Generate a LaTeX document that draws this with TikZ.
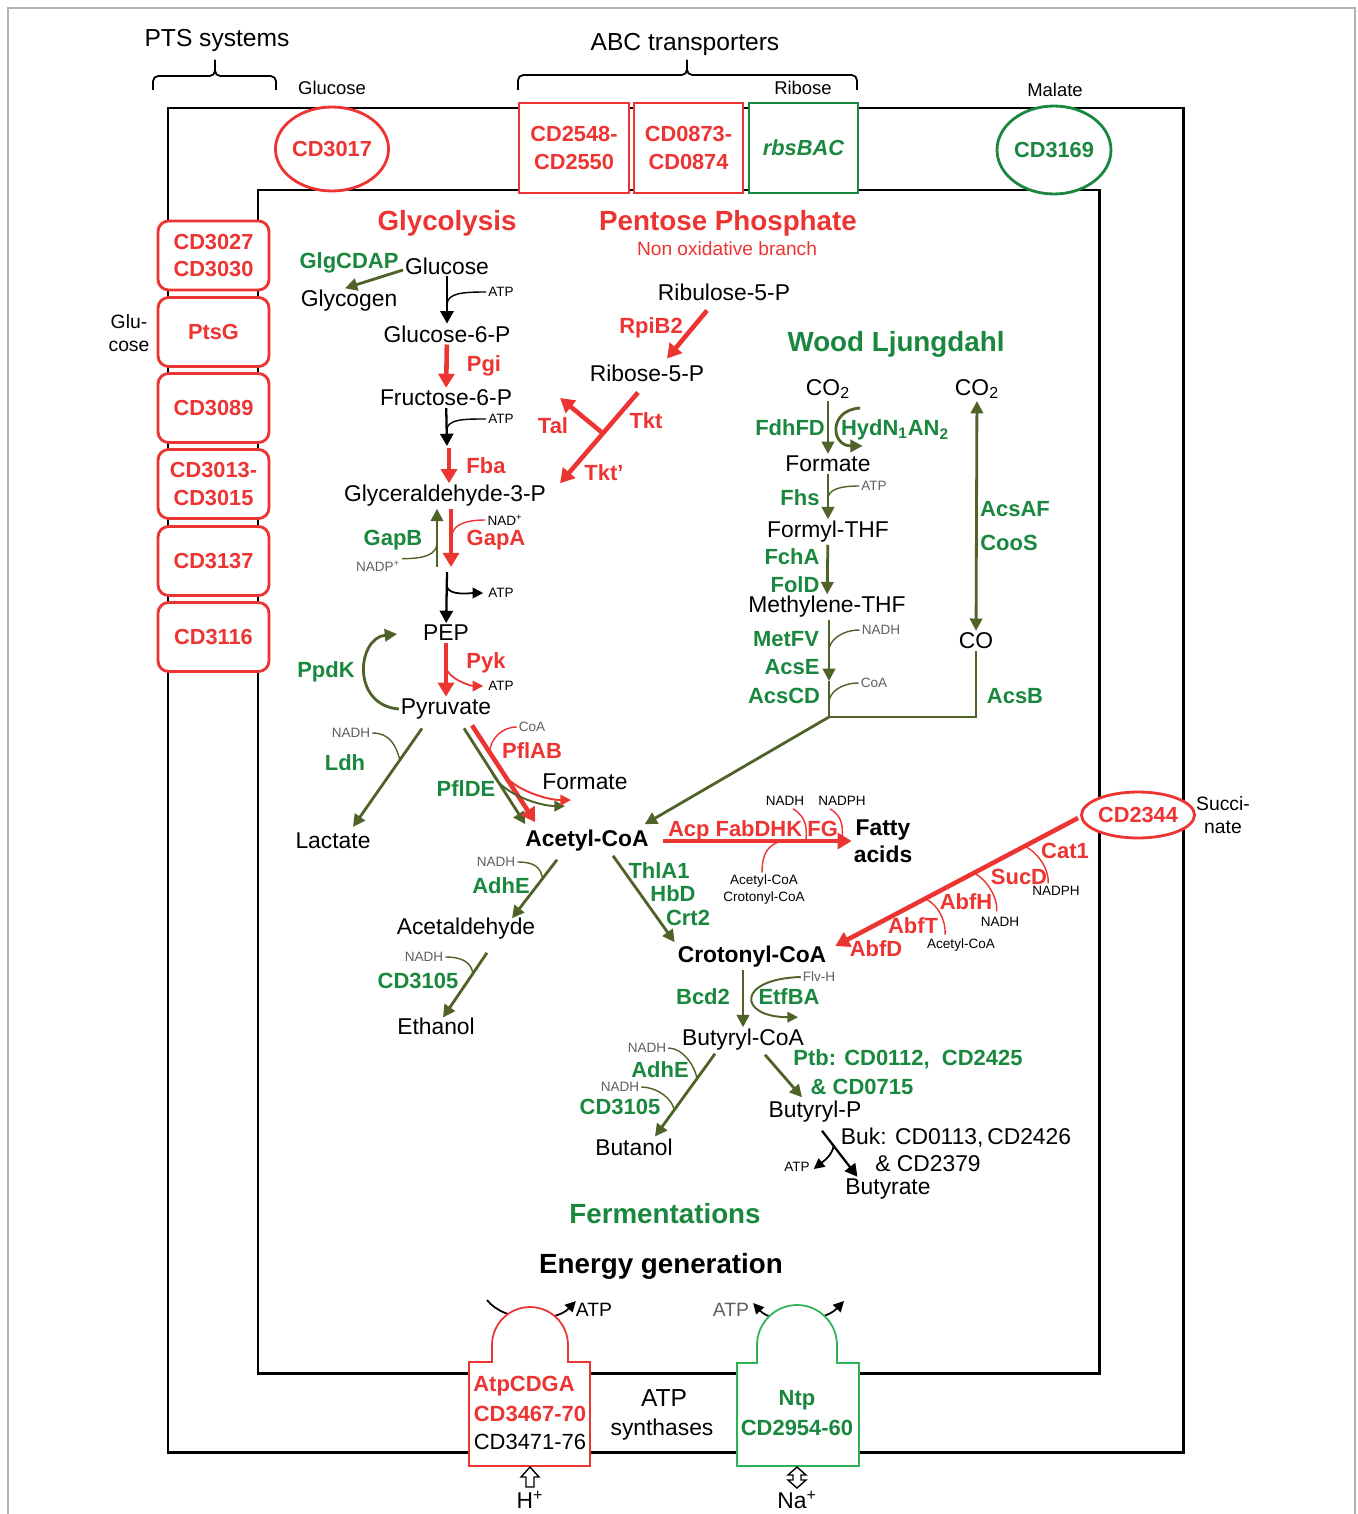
\documentclass[tikz,border=0pt]{standalone}
\usepackage{fontspec}
\setmainfont{Liberation Sans}
\usetikzlibrary{arrows.meta,shapes.geometric,calc}
\definecolor{redc}{RGB}{236,52,50}
\definecolor{greent}{RGB}{25,135,62}
\definecolor{arrowgreen}{RGB}{79,98,40}
\definecolor{ntpgreen}{RGB}{45,178,85}
\definecolor{cofgray}{RGB}{95,95,95}
\newcommand{\fsz}[2]{\fontsize{#1}{#2}\selectfont}
\newcommand{\membwidth}{1.7pt}
\newcommand{\cofwidth}{0.8pt}
\newcommand{\boxwidth}{1.6pt}

\tikzset{
  met/.style={font=\fsz{13}{16}},
  bmet/.style={font=\bfseries\fsz{13}{16}},
  genz/.style={font=\bfseries\fsz{12.5}{15}, text=greent},
  renz/.style={font=\bfseries\fsz{12.5}{15}, text=redc},
  cofac/.style={font=\fsz{7.7}{9}},
  gcofac/.style={font=\fsz{7.7}{9}, text=cofgray},
  ttl/.style={font=\bfseries\fsz{15.8}{18}},
  ptsbox/.style={draw=redc, line width=\boxwidth, rounded corners=6pt, fill=white, minimum width=2.22cm, minimum height=1.38cm, align=center, font=\bfseries\fsz{12.4}{15.9}, text=redc, inner sep=0pt},
  tbox/.style={draw, line width=\boxwidth, fill=white, minimum height=1.8cm, align=center, font=\bfseries\fsz{12.4}{15.9}, inner sep=0pt},
  tellipse/.style={ellipse, draw, line width=\boxwidth, fill=white, font=\bfseries\fsz{12.4}{15}, inner sep=0pt},
  karr/.style={line width=1.3pt, -{Triangle[length=7pt,width=7.5pt]}},
  rarr/.style={redc, line width=2.6pt, -{Triangle[length=8pt,width=9pt]}},
  garr/.style={arrowgreen, line width=1.6pt, -{Triangle[length=7pt,width=7pt]}},
  gline/.style={arrowgreen, line width=1.6pt},
  cof/.style={line width=\cofwidth},
  smalltip/.style={-{Triangle[length=6pt,width=6pt]}}
}

\begin{document}
\begin{tikzpicture}[x=0.02cm, y=-0.02cm, every node/.style={inner sep=1pt}]
\useasboundingbox (0,0) rectangle (1357,1514);
%frame
\draw[gray!60, line width=0.6pt] (8,1514) -- (8,8) -- (1355,8) -- (1355,1514);
%membranes
\draw[line width=\membwidth] (168,108) rectangle (1183,1452);
\draw[line width=\membwidth] (258,190) rectangle (1099,1373);

%transporters
\node[font=\fsz{14}{16}] (ptslab) at (217,40) {PTS systems};
\node[font=\fsz{14}{16}] (abclab) at (685,44) {ABC transporters};
\draw[line width=1pt, rounded corners=3pt] (153,90) -- (153,76) -- (215,76) -- (215,60);
\draw[line width=1pt, rounded corners=3pt] (215,60) -- (215,76) -- (276,76) -- (276,90);
\draw[line width=1pt, rounded corners=3pt] (518,90) -- (518,75) -- (687,75) -- (687,60);
\draw[line width=1pt, rounded corners=3pt] (687,60) -- (687,75) -- (857,75) -- (857,90);
\node[font=\fsz{10.5}{12}] (glcout) at (332,88) {Glucose};
\node[font=\fsz{10.5}{12}] (ribout) at (803,88) {Ribose};
\node[font=\fsz{10.5}{12}] (malout) at (1055,90) {Malate};
\node[font=\fsz{11}{13}, align=center] (glcpts) at (129,333) {Glu-\\cose};
\node[font=\fsz{11}{13}, align=center] (sucout) at (1223,815) {Succi-\\nate};

\node[tellipse, draw=redc, text=redc, minimum width=2.16cm, minimum height=1.68cm] (cd3017) at (332,149) {CD3017};
\node[tbox, draw=redc, text=redc, minimum width=2.2cm] (cd2548) at (574,148) {CD2548-\\CD2550};
\node[tbox, draw=redc, text=redc, minimum width=2.18cm] (cd0873) at (688.5,148) {CD0873-\\CD0874};
\node[tbox, draw=greent, text=greent, minimum width=2.18cm] (rbs) at (803.5,148) {\itshape rbsBAC};
\node[tellipse, draw=greent, text=greent, minimum width=2.28cm, minimum height=1.76cm] (cd3169) at (1054,150) {CD3169};
\node[tellipse, draw=redc, text=redc, minimum width=1.92cm, minimum height=0.92cm] (cd2344) at (1138,815) {CD2344};

\node[ptsbox] (pts1) at (213.5,255.5) {CD3027\\CD3030};
\node[ptsbox] (pts2) at (213.5,332) {PtsG};
\node[ptsbox] (pts3) at (213.5,408) {CD3089};
\node[ptsbox] (pts4) at (213.5,484) {CD3013-\\CD3015};
\node[ptsbox] (pts5) at (213.5,561) {CD3137};
\node[ptsbox] (pts6) at (213.5,637) {CD3116};

%glycolysis
\node[ttl, text=redc] (glyctitle) at (447,223) {Glycolysis};
\node[met] (glc) at (447,266) {Glucose};
\node[met] (glyg) at (349,301) {Glycogen};
\node[genz] (glg) at (349,263) {GlgCDAP};
\node[met] (g6p) at (447,334) {Glucose-6-P};
\node[renz] (pgi) at (484,366) {Pgi};
\node[met] (f6p) at (446,398) {Fructose-6-P};
\node[renz] (fba) at (486,466) {Fba};
\node[met] (gap) at (445,496) {Glyceraldehyde-3-P};
\node[genz] (gapb) at (393,540) {GapB};
\node[renz] (gapa) at (496,540) {GapA};
\node[met] (pep) at (446,633) {PEP};
\node[renz] (pyk) at (486,663) {Pyk};
\node[genz] (ppdk) at (326,672) {PpdK};
\node[met] (pyr) at (446,709) {Pyruvate};
\node[genz] (ldh) at (345,763) {Ldh};
\node[met] (lac) at (333,841) {Lactate};
\node[renz] (pflab) at (532,751) {PflAB};
\node[genz] (pflde) at (466,789) {PflDE};
\node[met] (fmt) at (585,782) {Formate};
\node[bmet] (acoa) at (587,841) {Acetyl-CoA};
\node[cofac] (atp1) at (501,292) {ATP};
\node[cofac] (atp2) at (501,419) {ATP};
\node[cofac] (nadp) at (505,520) {NAD\textsuperscript{+}};
\node[gcofac] (nadpp) at (378,566) {NADP\textsuperscript{+}};
\node[cofac] (atp3) at (501,593) {ATP};
\node[cofac] (atp4) at (501,686) {ATP};
\node[gcofac] (nadh1) at (351,733) {NADH};
\node[gcofac] (coa1) at (532,727) {CoA};
\coordinate (fbp) at (447,446);
\coordinate (bpg) at (447,572);
\coordinate (gbl) at (437,567);
\coordinate (gal) at (451,567);

\draw[garr] ($(glc.west)+(0,4)$) -- ($(glyg.north)+(-4,0)$);
\draw[karr] (glc) -- (g6p);
\draw[cof] (atp1.west) .. controls +(-22,0) and +(0,-12) .. ($(glc.south)!.6!(g6p.north)$);
\draw[rarr] (g6p) -- (f6p);
\draw[karr] (f6p) -- (fbp);
\draw[cof] (atp2.west) .. controls +(-22,0) and +(0,-12) .. ($(f6p.south)!.6!(fbp)$);
\draw[rarr] ($(fbp)+(2,2)$) -- ($(gap.north)+(4,0)$);
\draw[garr] (gbl) -- (gbl |- gap.south);
\draw[rarr] (gal |- gap.south) -- (gal);
\draw[cof, redc] (nadp.west) .. controls +(-20,0) and +(0,-12) .. ($(gal |- gap.south)+(1,28)$);
\draw[cof, arrowgreen] (nadpp.north east) .. controls +(22,0) and +(0,12) .. ($(gbl |- gap.south)+(0,34)$);
\draw[karr] (bpg) -- (pep);
\draw[cof, line width=1pt, smalltip] ($(bpg)!.28!(pep.north)$) .. controls +(2,10) and +(-12,0) .. ($(atp3.west)+(-3,0)$);
\draw[rarr] (pep) -- (pyr);
\draw[cof, redc, line width=1pt, smalltip] ($(pep.south)!.45!(pyr.north)$) .. controls +(2,12) and +(-12,0) .. ($(atp4.west)+(-3,0)$);
\draw[garr] (pyr.west) .. controls +(-48,-4) and +(-40,4) .. ($(pep.west)+(-24,1)$);
\coordinate (ldh1) at ($(pyr.south)+(-24,7)$);
\coordinate (ldh2) at ($(lac.north)+(20,-4)$);
\draw[garr] (ldh1) -- (ldh2);
\draw[cof, arrowgreen] (nadh1.east) .. controls +(18,0) and +(-4,-14) .. ($(ldh1)!.32!(ldh2)$);
\coordinate (pfr1) at ($(pyr.south)+(26,4)$);
\coordinate (pfr2) at ($(acoa.north west)+(12,-6)$);
\coordinate (pfg1) at ($(pyr.south)+(18,7)$);
\coordinate (pfg2) at ($(acoa.north west)+(2,-4)$);
\draw[garr] (pfg1) -- (pfg2);
\draw[rarr] (pfr1) -- (pfr2);
\draw[arrowgreen, line width=1.1pt, smalltip] ($(pfg1)!.45!(pfg2)$) .. controls +(8,22) and +(-25,0) .. ($(fmt.south)+(-20,14)$);
\draw[redc, line width=1.1pt, smalltip] ($(pfr1)!.42!(pfr2)$) .. controls +(8,22) and +(-25,0) .. ($(fmt.south)+(-14,8)$);
\draw[cof, redc] (coa1.west) .. controls +(-16,0) and +(0,-12) .. ($(pfr1)!.28!(pfr2)$);

%pentose phosphate
\node[ttl, text=redc] (pptitle) at (728,223) {Pentose Phosphate};
\node[font=\fsz{10.9}{13}, text=redc] (ppsub) at (727,249) {Non oxidative branch};
\node[met] (ru5p) at (724,292) {Ribulose-5-P};
\node[renz] (rpi) at (651,328) {RpiB2};
\node[met] (r5p) at (647,373) {Ribose-5-P};
\node[renz] (tal) at (553,426) {Tal};
\node[renz] (tkt) at (646,421) {Tkt};
\node[renz] (tkt2) at (604,473) {Tkt’};
\draw[rarr] ($(ru5p.south)+(-17,8)$) -- ($(r5p.north)+(20,-4)$);
\coordinate (tk1) at ($(r5p.south)+(-9,9)$);
\coordinate (tk2) at ($(gap.north east)+(12,0)$);
\draw[rarr] (tk1) -- (tk2);
\draw[rarr] ($(tk1)!.45!(tk2)$) -- ($(f6p.east)+(46,0)$);

%wood ljungdahl
\node[ttl, text=greent] (wltitle) at (896,344) {Wood Ljungdahl};
\node[met] (co2a) at (828,389) {CO\textsubscript{2}};
\node[genz] (fdh) at (790,428) {FdhFD};
\node[genz] (hyd) at (895,430) {HydN\textsubscript{1}AN\textsubscript{2}};
\node[met] (fora) at (828,464) {Formate};
\node[genz] (fhs) at (800,498) {Fhs};
\node[gcofac] (atp5) at (874,486) {ATP};
\node[met] (fthf) at (828,532) {Formyl-THF};
\node[genz] (fch) at (792,557) {FchA};
\node[genz] (fol) at (795,585) {FolD};
\node[met] (mthf) at (827,607) {Methylene-THF};
\node[genz] (metfv) at (786,639) {MetFV};
\node[gcofac] (nadh2) at (881,630) {NADH};
\node[genz] (acse) at (792,667) {AcsE};
\node[genz] (acscd) at (784,696) {AcsCD};
\node[gcofac] (coa2) at (874,683) {CoA};
\node[met] (co2b) at (977,389) {CO\textsubscript{2}};
\node[genz] (acsaf) at (1015,509) {AcsAF};
\node[genz] (coos) at (1009,543) {CooS};
\node[met] (co) at (976,641) {CO};
\node[genz] (acsb) at (1015,696) {AcsB};
\coordinate (wl1) at (829,681);
\coordinate (wl2) at (829,717);
\draw[garr] (co2a) -- (fora);
\draw[garr] ($(co2a.south east)+(8,7)$) .. controls +(-32,2) and +(-32,0) .. ($(fora.north east)+(-10,-8)$);
\draw[garr] (fora) -- (fthf);
\draw[cof, arrowgreen] (atp5.west) .. controls +(-18,0) and +(0,-10) .. ($(fora.south)!.55!(fthf.north)$);
\draw[garr] (fthf) -- (mthf);
\draw[garr] (mthf.south -| wl1) -- (wl1);
\draw[gline] (wl1) -- (wl2) -- (wl2 -| co) -- (co.south);
\draw[cof, arrowgreen] (nadh2.west) .. controls +(-18,0) and +(0,-10) .. ($(mthf.south -| wl1)!.5!(wl1)$);
\draw[cof, arrowgreen] (coa2.west) .. controls +(-18,0) and +(0,-10) .. ($(wl1)!.6!(wl2)$);
\draw[garr, {Triangle[length=7pt,width=7pt]}-{Triangle[length=7pt,width=7pt]}] (co2b) -- (co);
\draw[garr] (wl2) -- ($(acoa.north east)+(-6,-4)$);

%fatty acids
\node[bmet, align=center, font=\bfseries\fsz{13}{15.5}] (fa) at (883,841) {Fatty\\acids};
\node[renz] (fab) at (753,831) {Acp FabDHK\hspace{3pt}FG};
\node[cofac] (nadh3) at (785,801) {NADH};
\node[cofac] (nadph1) at (842,801) {NADPH};
\node[cofac] (acc1) at (764,881) {Acetyl-CoA};
\node[cofac] (crc1) at (764,898) {Crotonyl-CoA};
\draw[rarr] ($(acoa.east)+(12,0)$) -- (fa.west);
\draw[cof, redc] ($(nadh3.south)+(8,1)$) .. controls +(13,8) and +(1,-14) .. ($(nadh3.south)+(21,33)$);
\draw[cof, redc] ($(nadph1.south)+(-12,1)$) .. controls +(13,8) and +(1,-14) .. ($(nadph1.south)+(0,33)$);
\draw[cof, redc] ($(acc1.north)+(13,-30)$) .. controls +(-12,5) and +(0,-14) .. ($(acc1.north)+(-2,0)$);

%fermentations
\node[gcofac] (nadh5) at (496,862) {NADH};
\node[genz] (adhe1) at (501,886) {AdhE};
\node[met] (acald) at (466,929) {Acetaldehyde};
\node[gcofac] (nadh6) at (424,957) {NADH};
\node[genz] (cd3105a) at (418,981) {CD3105};
\node[met] (etoh) at (436,1026) {Ethanol};
\coordinate (ad1) at ($(acoa.south)+(-30,6)$);
\coordinate (ad2) at ($(acald.north)+(46,2)$);
\draw[garr] (ad1) -- (ad2);
\draw[cof, arrowgreen] (nadh5.east) .. controls +(16,0) and +(-2,-12) .. ($(ad1)!.32!(ad2)$);
\coordinate (et1) at ($(acald.south)+(21,11)$);
\coordinate (et2) at ($(etoh.north)+(7,2)$);
\draw[garr] (et1) -- (et2);
\draw[cof, arrowgreen] (nadh6.east) .. controls +(16,0) and +(-2,-12) .. ($(et1)!.32!(et2)$);

\node[genz] (thl) at (659,871) {ThlA1};
\node[genz] (hbd) at (673,894) {HbD};
\node[genz] (crt2) at (688,918) {Crt2};
\node[bmet] (crot) at (752,957) {Crotonyl-CoA};
\draw[garr] ($(acoa.south)+(26,2)$) -- ($(crot.north west)+(-1,-2)$);

\node[renz] (cat1) at (1065,851) {Cat1};
\node[renz] (sucd) at (1019,877) {SucD};
\node[renz] (abfh) at (966,902) {AbfH};
\node[renz] (abft) at (913,926) {AbfT};
\node[renz] (abfd) at (876,949) {AbfD};
\node[cofac] (nadph2) at (1056,891) {NADPH};
\node[cofac] (nadh4) at (1000,922) {NADH};
\node[cofac] (acc2) at (961,945) {Acetyl-CoA};
\coordinate (cs1) at ($(cd2344.west)+(-2,3)$);
\coordinate (cs2) at ($(crot.east)+(7,-11)$);
\draw[rarr] (cs1) -- (cs2);
\draw[cof, redc] ($(cs1)!.22!(cs2)$) .. controls +(13,6) and +(1,-14) .. ($(nadph2.north west)+(18,-1)$);
\draw[cof, redc] ($(cs1)!.43!(cs2)$) .. controls +(13,6) and +(1,-14) .. ($(nadh4.north west)+(18,-4)$);
\draw[cof, redc] ($(cs1)!.63!(cs2)$) .. controls +(13,6) and +(1,-14) .. ($(acc2.north west)+(20,-2)$);

\node[genz] (bcd2) at (703,997) {Bcd2};
\node[genz] (etf) at (789,997) {EtfBA};
\node[gcofac] (flv) at (819,977) {Flv-H};
\node[met] (bcoa) at (743,1040) {Butyryl-CoA};
\draw[garr] (crot.south -| bcoa) -- (bcoa);
\draw[arrowgreen, line width=1.1pt, smalltip] (flv.west) .. controls +(-65,2) and +(-60,0) .. ($(etf.south)+(9,10)$);

\node[gcofac] (nadh7) at (647,1048) {NADH};
\node[genz] (adhe2) at (660,1070) {AdhE};
\node[gcofac] (nadh8) at (620,1087) {NADH};
\node[genz] (cd3105b) at (620,1107) {CD3105};
\node[met] (butoh) at (634,1147) {Butanol};
\coordinate (bo1) at ($(bcoa.south)+(-28,1)$);
\coordinate (bo2) at ($(butoh.north)+(21,0)$);
\draw[garr] (bo1) -- (bo2);
\draw[cof, arrowgreen] (nadh7.east) .. controls +(15,0) and +(-2,-12) .. ($(bo1)!.3!(bo2)$);
\draw[cof, arrowgreen] (nadh8.east) .. controls +(15,0) and +(-2,-12) .. ($(bo1)!.68!(bo2)$);

\node[genz] (ptb) at (908,1059) {Ptb: CD0112,~ CD2425};
\node[genz] (ptb2) at (862,1087) {\& CD0715};
\node[met] (bp) at (815,1112) {Butyryl-P};
\draw[garr] ($(bcoa.south)+(22,2)$) -- ($(bp.north)+(-13,-2)$);
\node[met] (buk) at (956,1138) {Buk: CD0113,\,CD2426};
\node[met] (buk2) at (928,1164) {\& CD2379};
\node[met] (but) at (888,1189) {Butyrate};
\node[cofac] (atp6) at (797,1167) {ATP};
\coordinate (bk1) at ($(bp.south)+(7,6)$);
\coordinate (bk2) at ($(but.north west)+(14,0)$);
\draw[karr] (bk1) -- (bk2);
\draw[line width=1pt, smalltip] ($(bk1)!.33!(bk2)$) .. controls +(-2,10) and +(10,-8) .. ($(atp6.east)+(2,2)$);

\node[ttl, text=greent] (fermtitle) at (665,1214) {Fermentations};
\node[ttl] (enertitle) at (661,1266) {Energy generation};

%atp synthases
\node[font=\fsz{11}{13}] (atpo1) at (594,1310) {ATP};
\node[font=\fsz{11}{13}, text=cofgray] (atpo2) at (731,1310) {ATP};
\coordinate (atpin) at (487,1300);
\coordinate (ntpout) at (844,1301);
\draw[line width=1pt, smalltip] (atpin) .. controls (505,1323) and (555,1323) .. ($(atpo1.west)+(2,-9)$);
\draw[line width=1pt, {Triangle[length=6pt,width=6pt]}-{Triangle[length=6pt,width=6pt]}] ($(atpo2.east)+(2,-7)$) .. controls (772,1324) and (822,1324) .. (ntpout);
\draw[redc, line width=1pt, fill=white] (469,1466) -- (469,1362) -- (492,1362) -- (492,1345) .. controls (492,1324) and (509,1307) .. (530,1307) .. controls (551,1307) and (568,1324) .. (568,1345) -- (568,1362) -- (590,1362) -- (590,1466) -- cycle;
\draw[ntpgreen, line width=1pt, fill=white] (737,1466) -- (737,1363) -- (757,1363) -- (757,1345) .. controls (757,1323) and (775,1305) .. (797,1305) .. controls (819,1305) and (837,1323) .. (837,1345) -- (837,1363) -- (859,1363) -- (859,1466) -- cycle;
\node[renz] (atpa) at (524,1386) {AtpCDGA};
\node[renz] (atpb) at (530,1414) {CD3467-70};
\node[font=\fsz{12.5}{15}] (atpc) at (530,1442) {CD3471-76};
\node[genz] (ntpa) at (797,1400) {Ntp};
\node[genz] (ntpb) at (797,1428) {CD2954-60};
\node[font=\fsz{14}{16}] (atplab) at (664,1398) {ATP};
\node[met] (synlab) at (662,1430) {synthases};
\draw[line width=0.8pt, fill=white] (530,1467) -- (539,1477) -- (534,1477) -- (534,1487) -- (526,1487) -- (526,1477) -- (521,1477) -- cycle;
\draw[line width=0.8pt, fill=white] (797,1467) -- (806,1475) -- (801,1475) -- (801,1480) -- (806,1480) -- (797,1488) -- (788,1480) -- (793,1480) -- (793,1475) -- (788,1475) -- cycle;
\node[met] (hion) at (530,1500) {H\textsuperscript{+}};
\node[met] (naion) at (797,1500) {Na\textsuperscript{+}};
\end{tikzpicture}
\end{document}
